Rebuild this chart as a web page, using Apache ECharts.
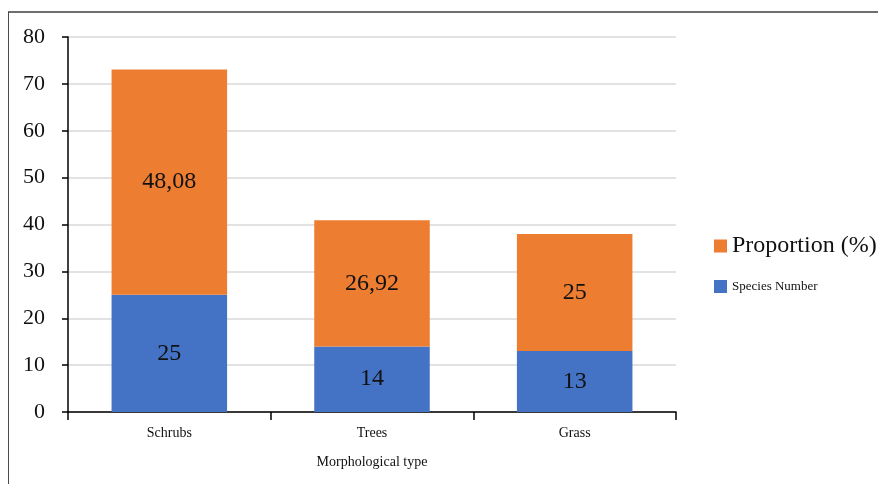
<!DOCTYPE html>
<html>
<head>
<meta charset="utf-8">
<script src="https://cdn.jsdelivr.net/npm/echarts@6/dist/echarts.min.js"></script>
<style>
  html, body { margin: 0; padding: 0; background: #fff; }
  #frame { position: absolute; left: 8px; top: 11px; width: 900px; height: 500px;
           border-top: 2px solid #6e6e6e; border-left: 1px solid #4a4a4a; }
  #chart { position: absolute; left: 0; top: 0; width: 878px; height: 484px; }
</style>
</head>
<body>
<div id="frame"></div>
<div id="chart"></div>
<script>
// Morphological types and their stacked values
const categories = ['Schrubs', 'Trees', 'Grass'];
const speciesNumber = [25, 14, 13];
const proportion = [48.08, 26.92, 25];
const yTicks = [0, 10, 20, 30, 40, 50, 60, 70, 80];

const serif = '"Liberation Serif", "Times New Roman", serif';
// Labels use a decimal comma
const fmt = v => String(v).replace('.', ',');

const chart = echarts.init(document.getElementById('chart'), null, { renderer: 'canvas' });
chart.setOption({
  animation: false,
  textStyle: { fontFamily: serif },
  grid: { left: 68, right: 202, top: 37, bottom: 72 },
  legend: [
    {
      data: ['Proportion (%)'],
      icon: 'rect',
      left: 709, top: 229,
      itemWidth: 13, itemHeight: 13, itemGap: 6,
      textStyle: { fontFamily: serif, fontSize: 24, color: '#111' }
    },
    {
      data: ['Species Number'],
      icon: 'rect',
      left: 709, top: 275,
      itemWidth: 13, itemHeight: 13, itemGap: 8,
      textStyle: { fontFamily: serif, fontSize: 13, color: '#111' }
    }
  ],
  xAxis: {
    type: 'category',
    data: categories,
    name: 'Morphological type',
    nameLocation: 'middle',
    nameGap: 43,
    nameTextStyle: { fontFamily: serif, fontSize: 14, color: '#111' },
    axisLine: { lineStyle: { color: '#000', width: 1.5 } },
    axisTick: { show: true, length: 8, lineStyle: { color: '#000', width: 1.5 } },
    axisLabel: { fontFamily: serif, fontSize: 14, color: '#111', margin: 14 }
  },
  yAxis: {
    type: 'value',
    min: 0, max: yTicks[yTicks.length - 1], interval: yTicks[1] - yTicks[0],
    axisLine: { show: true, lineStyle: { color: '#000', width: 1.5 } },
    axisTick: { show: true, length: 6, lineStyle: { color: '#000', width: 1.5 } },
    axisLabel: { fontFamily: serif, fontSize: 22, color: '#111', margin: 23 },
    splitLine: { lineStyle: { color: '#d9d9d9', width: 1.5 } }
  },
  series: [
    {
      name: 'Species Number',
      type: 'bar',
      stack: 'total',
      barWidth: '57%',
      data: speciesNumber,
      itemStyle: { color: '#4472c4' },
      label: { show: true, position: 'inside', fontFamily: serif, fontSize: 24, color: '#111',
               formatter: p => fmt(p.value) }
    },
    {
      name: 'Proportion (%)',
      type: 'bar',
      stack: 'total',
      barWidth: '57%',
      data: proportion,
      itemStyle: { color: '#ed7d31' },
      label: { show: true, position: 'inside', fontFamily: serif, fontSize: 24, color: '#111',
               formatter: p => fmt(p.value) }
    }
  ]
});
</script>
</body>
</html>
